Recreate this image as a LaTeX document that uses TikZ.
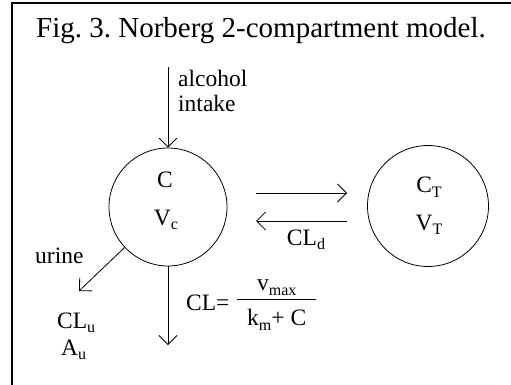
\documentclass[tikz,border=0pt]{standalone}
\usepackage{fontspec}
\setmainfont{Liberation Serif}
\usetikzlibrary{arrows.meta,positioning}
\newcommand{\lowidx}[1]{\raisebox{-4.5pt}{\fontsize{16}{16}\selectfont #1}}
\frenchspacing

\tikzset{
  flow/.style={-{Straight Barb[length=9pt,width=18pt]},line width=0.8pt},
  compartment/.style={circle,draw,line width=0.8pt,minimum size=118pt,inner sep=0pt},
  lbl/.style={font=\fontsize{23.5}{26}\selectfont,inner sep=0pt},
}

\begin{document}
\begin{tikzpicture}[x=1pt,y=-1pt]
    \useasboundingbox (0,0) rectangle (511,385);
    % frame
    \draw[line width=1.5pt] (12,385) -- (12,3) -- (511,3);
    \node[font=\fontsize{29}{31}\selectfont,inner sep=0pt,anchor=base west] (title) at (36,38) {Fig. 3. Norberg 2-compartment model.};
    % compartments
    \node[compartment] (central) at (168,207) {};
    \node[compartment,minimum size=121pt] (tissue) at (428,206) {};
    \node[lbl] (conc) at (165,180) {C};
    \node[lbl] (vol) at (166,220) {V\lowidx{c}};
    \node[lbl] (concT) at (429,187) {C\lowidx{T}};
    \node[lbl] (volT) at (429,225) {V\lowidx{T}};
    % input
    \coordinate (intake) at (168,67);
    \node[lbl,anchor=base west] (alc) at (178,87) {alcohol};
    \node[lbl,anchor=base west] (intk) at (178,112) {intake};
    \draw[flow] (intake) -- (central.north);
    % distribution
    \coordinate (dA) at (256,193);
    \coordinate (dB) at (347,193);
    \coordinate (dC) at (347,221);
    \coordinate (dD) at (256,221);
    \draw[flow] (dA) -- (dB);
    \draw[flow] (dC) -- (dD);
    \node[lbl,anchor=base] (cld) at (306,245) {CL\lowidx{d}};
    % urine
    \coordinate (urineEnd) at (79,291);
    \draw[flow] (central.223) -- (urineEnd);
    \node[lbl,anchor=base west] (urine) at (35,263) {urine};
    \node[lbl,anchor=base west] (clu) at (57,328) {CL\lowidx{u}};
    \node[lbl,anchor=base west] (au) at (61,355) {A\lowidx{u}};
    % metabolism
    \coordinate (metEnd) at (168,345);
    \draw[flow] (central.south) -- (metEnd);
    \node[lbl,anchor=base west] (cl) at (186,310) {CL=};
    \node[lbl,anchor=west] (frac) at (237,303)
      {\begin{tabular}{@{\hspace{10pt}}c@{\hspace{10pt}}}v\lowidx{max}\\[1pt]\hline\rule{0pt}{26pt}k\lowidx{m}+ C\end{tabular}};
\end{tikzpicture}
\end{document}
